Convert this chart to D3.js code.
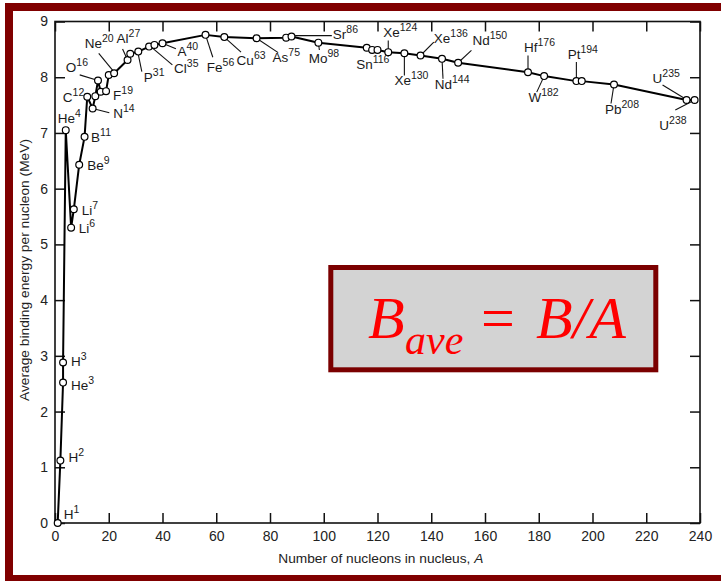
<!DOCTYPE html>
<html>
<head>
<meta charset="utf-8">
<script src="https://cdn.jsdelivr.net/npm/d3@7"></script>
<style>
  html, body { margin: 0; padding: 0; background: #ffffff; }
  svg { display: block; }
  text.sans { font-family: "Liberation Sans", Arial, sans-serif; }
  text.serif { font-family: "Liberation Serif", "Times New Roman", serif; }
</style>
</head>
<body>
<svg id="chart" width="721" height="581"></svg>
<script>
// ---------------- DATA ----------------
const massNumber = [1, 2, 3, 3, 4, 6, 7, 9, 11, 12, 14, 15, 16, 17, 19, 20, 22, 27, 28, 31, 35, 37, 40,
  56, 63, 75, 86, 88, 98, 116, 118, 120, 124, 130, 136, 144, 150, 176, 182, 194, 196, 208, 235, 238];
const bindingEnergy = [0, 1.12, 2.52, 2.88, 7.05, 5.30, 5.63, 6.43, 6.93, 7.65, 7.44, 7.66, 7.94, 7.74, 7.75, 8.04, 8.07, 8.31, 8.42, 8.46, 8.55, 8.58, 8.61,
  8.76, 8.72, 8.70, 8.71, 8.73, 8.62, 8.53, 8.49, 8.49, 8.45, 8.43, 8.39, 8.33, 8.26, 8.09, 8.02, 7.93, 7.93, 7.87, 7.59, 7.59];
const elementSymbol = ["H", "H", "He", "H", "He", "Li", "Li", "Be", "B", "C", "N", "N", "O", "O", "F", "Ne", "Ne", "Al", "Si", "P", "Cl", "Cl", "A",
  "Fe", "Cu", "As", "Sr", "Sr", "Mo", "Sn", "Sn", "Sn", "Xe", "Xe", "Xe", "Nd", "Nd", "Hf", "W", "Pt", "Pt", "Pb", "U", "U"];
const labeledNuclides = ["H1", "H2", "He3", "H3", "He4", "Li6", "Li7", "Be9", "B11", "C12", "N14", "O16", "F19", "Ne20", "Al27", "P31", "Cl35", "A40",
  "Fe56", "Cu63", "As75", "Sr86", "Mo98", "Sn116", "Xe124", "Xe130", "Xe136", "Nd144", "Nd150", "Hf176", "W182", "Pt194", "Pb208", "U235", "U238"];
const xTicks = [0, 20, 40, 60, 80, 100, 120, 140, 160, 180, 200, 220, 240];
const yTicks = [0, 1, 2, 3, 4, 5, 6, 7, 8, 9];
const xTitle = "Number of nucleons in nucleus, ";
const xTitleVar = "A";
const yTitle = "Average binding energy per nucleon (MeV)";

// ---------------- LAYOUT (label placement, pixels relative to the point) ----------------
// [dx, dy, anchor, leader or null [x1,y1,x2,y2]]
const labelLayout = {
  H1: [6, -4, "start", null], H2: [8, 1, "start", null], He3: [8, 7.5, "start", null], H3: [8, 3.5, "start", null],
  He4: [-8, -7, "start", null], Li6: [7.5, 5.5, "start", null], Li7: [8, 5.5, "start", null], Be9: [8, 5.5, "start", null],
  B11: [6.5, 5, "start", null], C12: [-3, 5, "end", null], N14: [20.5, 10, "start", [16.7, 4.4, 0, 0]],
  O16: [-10, -9, "end", [-18.3, -5.7, 0, 0]], F19: [7, 9, "start", null], Ne20: [-24, -26.7, "start", [-10, -21.7, 5, -3.3]],
  Al27: [-11, -16.7, "start", [-5, -11, 0, 0]], P31: [5.5, 30, "start", [3.5, 20, 0, 3]], Cl35: [25, 26, "start", [23.3, 18.3, 1.7, 0]],
  A40: [15, 12.5, "start", [13.4, 5.6, 0, 0]], Fe56: [1.3, 37, "start", [0, 0, 7.3, 22.4]], Cu63: [12.3, 28, "start", [0, 0, 16.7, 15]],
  As75: [16, 24, "start", [0, 0, 21.6, 14.4]], Sr86: [46.7, 1.5, "start", [9, -2, 45.7, -2]], Mo98: [-9.7, 20.6, "start", [0, 0, 1, 7.3]],
  Sn116: [-10.6, 21, "start", null], Xe124: [-5, -15, "start", [0, -11.7, 0, -1.7]], Xe130: [-10, 32, "start", [0, 0, 0, 22.3]],
  Xe136: [13.3, -12.3, "start", [0, 0, 13.3, -13.3]], Nd144: [-7.3, 30, "start", [0, 0, 1, 20]], Nd150: [14.3, -17.3, "start", [0, 0, 13.3, -12.3]],
  Hf176: [-4, -20, "start", [0, 0, 0, -16.7]], W182: [-15.7, 26, "start", [0, 0, -7.4, 16]], Pt194: [-8.7, -22.4, "start", [0, 0, 0, -19]],
  Pb208: [-9, 29.3, "start", [0, 0, -3, 19]], U235: [-34, -17.3, "start", [-24, -15, -1, -1]], U238: [-35.3, 30, "start", [-19.3, 10, 0, 0]]
};

const svg = d3.select("#chart");
const W = 721, H = 581;
const plot = { left: 55, right: 700, top: 21.5, bottom: 523 };

svg.append("rect").attr("x", 0).attr("y", 0).attr("width", W).attr("height", H).attr("fill", "#ffffff");

const x = d3.scaleLinear().domain([0, 240]).range([plot.left, plot.right]);
const y = d3.scaleLinear().domain([0, 9]).range([plot.bottom, plot.top]);

// ---------------- AXES ----------------
const axisStyle = g => {
  g.select(".domain").remove();
  g.selectAll(".tick line").attr("stroke", "#111").attr("stroke-width", 1.5);
  g.selectAll(".tick text").attr("class", "sans").attr("fill", "#222").style("font-size", "14px");
};
svg.append("g").attr("transform", `translate(0,${plot.bottom})`)
  .call(d3.axisBottom(x).tickValues(xTicks).tickSize(-10).tickPadding(8).tickFormat(d3.format("d")))
  .call(axisStyle);
svg.append("g").attr("transform", `translate(0,${plot.top})`)
  .call(d3.axisTop(x).tickValues(xTicks).tickSize(-10).tickFormat(""))
  .call(axisStyle);
svg.append("g").attr("transform", `translate(${plot.left},0)`)
  .call(d3.axisLeft(y).tickValues(yTicks).tickSize(-10).tickPadding(7).tickFormat(d3.format("d")))
  .call(axisStyle);
svg.append("g").attr("transform", `translate(${plot.right},0)`)
  .call(d3.axisRight(y).tickValues(yTicks).tickSize(-10).tickFormat(""))
  .call(axisStyle);

svg.append("rect")
  .attr("x", plot.left).attr("y", plot.top)
  .attr("width", plot.right - plot.left).attr("height", plot.bottom - plot.top)
  .attr("fill", "none").attr("stroke", "#111").attr("stroke-width", 1.6);

// ---------------- DATA LINE + POINTS ----------------
const pts = massNumber.map((a, i) => ({ a, b: bindingEnergy[i], el: elementSymbol[i], key: elementSymbol[i] + a }));

svg.append("path")
  .datum(pts)
  .attr("fill", "none").attr("stroke", "#000").attr("stroke-width", 2).attr("stroke-linejoin", "round")
  .attr("d", d3.line().x(d => x(d.a)).y(d => y(d.b)));

// leaders
const labeled = pts.filter(d => labeledNuclides.includes(d.key));
svg.append("g").selectAll("line")
  .data(labeled.filter(d => labelLayout[d.key] && labelLayout[d.key][3]))
  .join("line")
  .attr("x1", d => x(d.a) + labelLayout[d.key][3][0])
  .attr("y1", d => y(d.b) + labelLayout[d.key][3][1])
  .attr("x2", d => x(d.a) + labelLayout[d.key][3][2])
  .attr("y2", d => y(d.b) + labelLayout[d.key][3][3])
  .attr("stroke", "#111").attr("stroke-width", 1.1);

svg.append("g").selectAll("circle")
  .data(pts)
  .join("circle")
  .attr("cx", d => x(d.a)).attr("cy", d => y(d.b)).attr("r", 3.4)
  .attr("fill", "#fff").attr("stroke", "#000").attr("stroke-width", 1.2);

// labels
const lab = svg.append("g").selectAll("text")
  .data(labeled)
  .join("text")
  .attr("class", "sans")
  .attr("x", d => x(d.a) + labelLayout[d.key][0])
  .attr("y", d => y(d.b) + labelLayout[d.key][1])
  .attr("text-anchor", d => labelLayout[d.key][2])
  .attr("fill", "#1a1a1a")
  .style("font-size", "13.5px");
lab.append("tspan").text(d => d.el);
lab.append("tspan").attr("dy", -6).style("font-size", "10.5px").text(d => d.a);

// ---------------- TITLES ----------------
const xt = svg.append("text")
  .attr("class", "sans")
  .attr("x", 380.8).attr("y", 563).attr("text-anchor", "middle")
  .attr("fill", "#222").style("font-size", "13px")
  .attr("textLength", 205).attr("lengthAdjust", "spacingAndGlyphs");
xt.append("tspan").text(xTitle);
xt.append("tspan").style("font-style", "italic").text(xTitleVar);

svg.append("text")
  .attr("class", "sans")
  .attr("transform", "translate(29,270) rotate(-90)")
  .attr("text-anchor", "middle").attr("fill", "#222").style("font-size", "13px")
  .attr("textLength", 262).attr("lengthAdjust", "spacingAndGlyphs")
  .text(yTitle);

// ---------------- FORMULA BOX ----------------
svg.append("rect")
  .attr("x", 330.8).attr("y", 267.5).attr("width", 325).attr("height", 102.3)
  .attr("fill", "#d3d3d3").attr("stroke", "#7b0000").attr("stroke-width", 5);
const f = svg.append("g").attr("fill", "#ff0000");
f.append("text").attr("class", "serif").attr("x", 368).attr("y", 338.3).style("font-size", "60px").style("font-style", "italic").text("B");
f.append("text").attr("class", "serif").attr("x", 405).attr("y", 354).style("font-size", "42px").style("font-style", "italic").text("ave");
f.append("text").attr("class", "serif").attr("x", 481).attr("y", 338.3).style("font-size", "60px").text("=");
f.append("text").attr("class", "serif").attr("x", 536).attr("y", 338.3).style("font-size", "60px").style("font-style", "italic").text("B/A");

// ---------------- OUTER FRAME ----------------
svg.append("rect")
  .attr("x", 9).attr("y", 7).attr("width", 716).attr("height", 572)
  .attr("fill", "none").attr("stroke", "#800000").attr("stroke-width", 8);
</script>
</body>
</html>
